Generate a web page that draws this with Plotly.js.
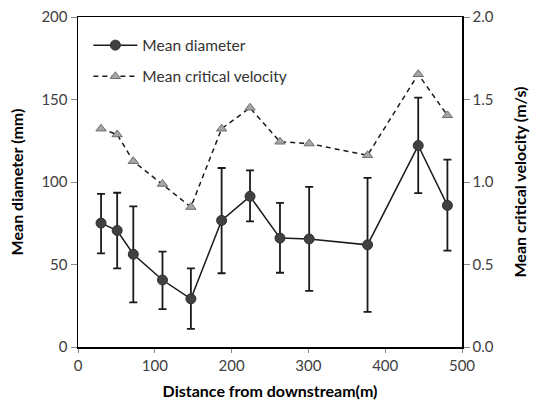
<!DOCTYPE html>
<html>
<head>
<meta charset="utf-8">
<script src="https://cdn.plot.ly/plotly-3.0.1.min.js"></script>
<style>html,body{margin:0;padding:0;background:#fff;}#chart{width:537px;height:414px;}</style>
</head>
<body>
<div id="chart"></div>
<script>
const distance = [30, 51, 72, 110, 147, 187, 224, 263, 301, 377, 443, 481];
const meanDiameter = [75.1, 70.6, 56.2, 40.6, 29.2, 76.7, 91.3, 66.0, 65.5, 61.9, 122.1, 85.8];
const diameterUpper = [92.8, 93.5, 85.2, 57.8, 47.7, 108.5, 107.1, 87.3, 97.0, 102.5, 151.1, 113.6];
const diameterLower = [56.8, 47.7, 27.0, 22.9, 11.0, 44.7, 76.1, 45.0, 34.0, 21.3, 93.3, 58.4];
const meanVelocity = [1.323, 1.288, 1.126, 0.988, 0.848, 1.323, 1.45, 1.244, 1.233, 1.162, 1.653, 1.404];

const errPlus = diameterUpper.map((u, i) => u - meanDiameter[i]);
const errMinus = meanDiameter.map((m, i) => m - diameterLower[i]);

const FONT = 'Lato, "Open Sans", sans-serif';

const traces = [
  {
    x: distance, y: meanDiameter, name: 'Mean diameter', type: 'scatter', mode: 'lines+markers',
    legendgroup: 'a',
    line: {color: '#1a1a1a', width: 1.5},
    marker: {symbol: 'circle', size: 10, color: '#404040', line: {color: '#303030', width: 1}},
    error_y: {type: 'data', symmetric: false, array: errPlus, arrayminus: errMinus,
              color: '#1a1a1a', thickness: 1.8, width: 4},
    yaxis: 'y'
  },
  {
    x: distance, y: meanVelocity, name: 'Mean critical velocity', type: 'scatter', mode: 'lines+markers',
    legendgroup: 'b',
    line: {color: '#1a1a1a', width: 1.5, dash: '5px,4px'},
    marker: {symbol: 'triangle-up', size: 9, color: '#a6a6a6', line: {color: '#6e6e6e', width: 1}},
    yaxis: 'y2'
  }
];

const layout = {
  width: 537, height: 414,
  margin: {l: 78, r: 75, t: 17, b: 67},
  paper_bgcolor: '#ffffff', plot_bgcolor: '#ffffff',
  font: {family: FONT, size: 15, color: '#404040'},
  showlegend: true,
  legend: {x: 0.027, y: 0.965, xanchor: 'left', yanchor: 'top', bgcolor: 'rgba(0,0,0,0)',
           font: {family: FONT, size: 15.5, color: '#333333'}, tracegroupgap: 8, itemwidth: 44},
  xaxis: {
    range: [0, 500], tickvals: [0, 100, 200, 300, 400, 500], showgrid: false, zeroline: false,
    showline: true, linecolor: '#000', linewidth: 1.5, mirror: true,
    ticks: 'outside', ticklen: 4, tickcolor: '#888', tickfont: {family: FONT, size: 15, color: '#404040'},
    title: {text: 'Distance from downstream(m)', font: {family: FONT, size: 16, color: '#000', weight: 'bold'}, standoff: 13}
  },
  yaxis: {
    range: [0, 200], tickvals: [0, 50, 100, 150, 200], showgrid: false, zeroline: false,
    showline: true, linecolor: '#000', linewidth: 1.5,
    ticks: 'outside', ticklen: 6, tickcolor: '#888', tickfont: {family: FONT, size: 15, color: '#404040'},
    title: {text: 'Mean diameter (mm)', font: {family: FONT, size: 16, color: '#000', weight: 'bold'}, standoff: 14}
  },
  yaxis2: {
    range: [0, 2], tickvals: [0, 0.5, 1, 1.5, 2], tickformat: '.1f', overlaying: 'y', side: 'right',
    showgrid: false, zeroline: false, showline: true, linecolor: '#000', linewidth: 1.5,
    ticks: 'outside', ticklen: 6, tickcolor: '#888', tickfont: {family: FONT, size: 15, color: '#404040'},
    title: {text: 'Mean critical velocity (m/s)', font: {family: FONT, size: 16, color: '#000', weight: 'bold'}, standoff: 22}
  }
};

Plotly.newPlot('chart', traces, layout, {displayModeBar: false, staticPlot: true});
</script>
</body>
</html>
